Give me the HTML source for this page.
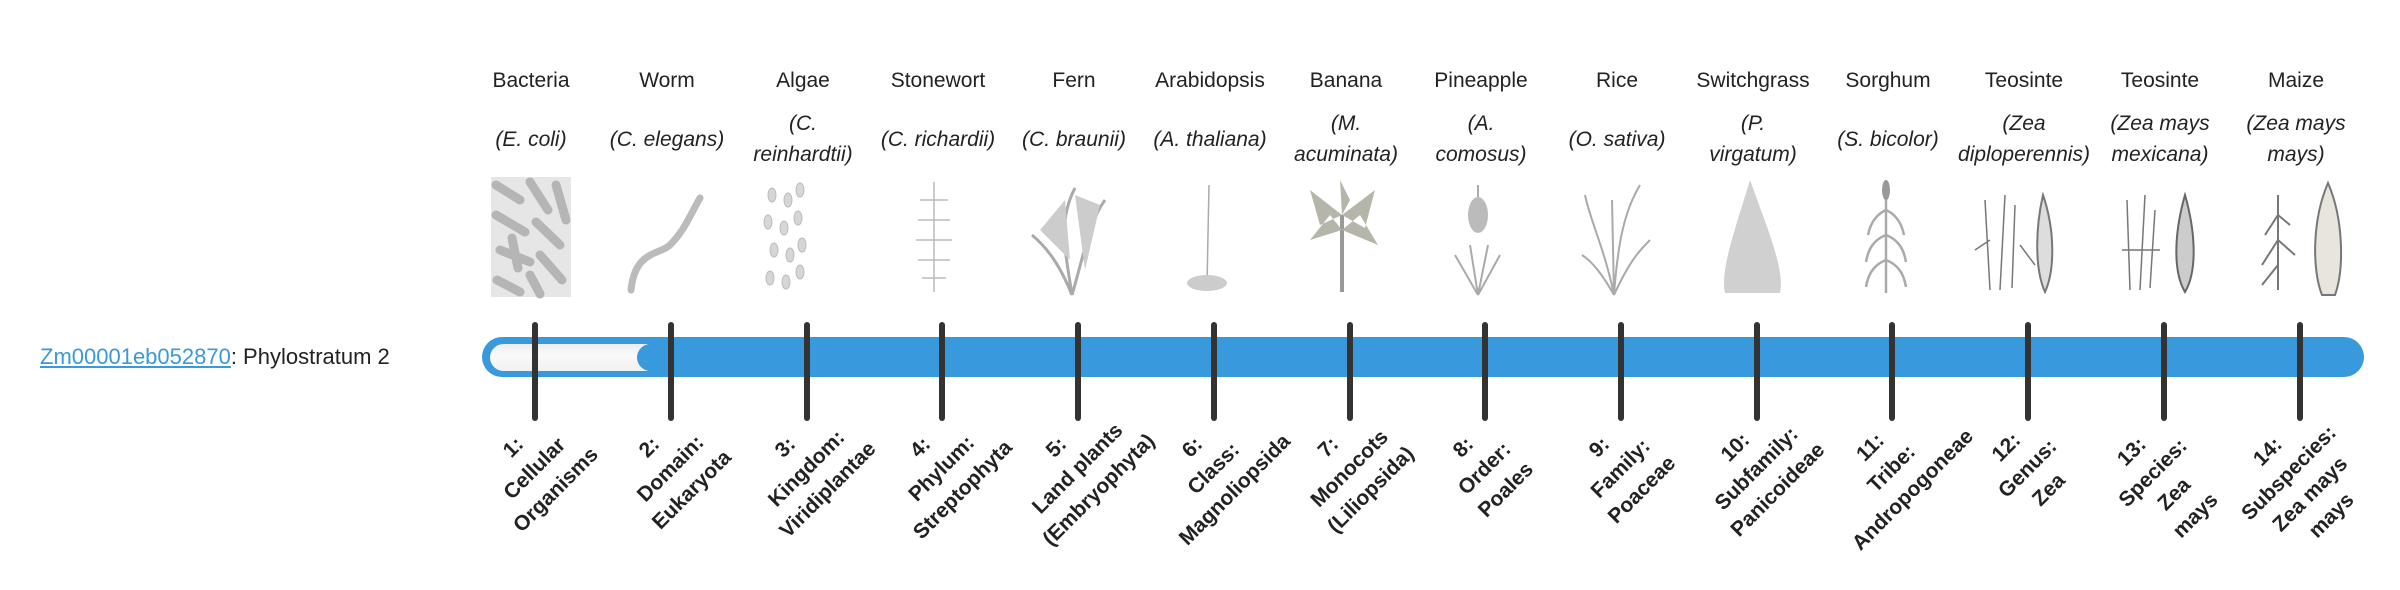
<!DOCTYPE html>
<html><head><meta charset="utf-8">
<style>
body{margin:0;width:2400px;height:580px;background:#fff;position:relative;overflow:hidden;font-family:"Liberation Sans","DejaVu Sans",sans-serif;color:#222}
.abs{position:absolute}
.cn{position:absolute;top:66px;width:160px;text-align:center;font-size:21px;line-height:30px;white-space:nowrap}
.sn{position:absolute;top:100px;height:78px;width:160px;display:flex;align-items:center;justify-content:center;text-align:center;font-size:21px;line-height:31px;font-style:italic;white-space:nowrap}
.im{position:absolute;top:177px;width:120px;height:120px}
.tk{position:absolute;top:322px;width:6px;height:99px;background:#333;border-radius:3px}
.lb{position:absolute;top:424px;width:180px;text-align:center;font-weight:bold;font-size:21px;line-height:30px;transform:rotate(-45deg);transform-origin:center;white-space:nowrap;color:#222}
</style></head><body>
<div class="abs" style="left:40px;top:343px;font-size:22px;line-height:28px;white-space:nowrap"><span style="color:#3899dc;text-decoration:underline">Zm00001eb052870</span>: Phylostratum 2</div>

<!-- bar -->
<div class="abs" style="left:482px;top:337px;width:1882px;height:40px;background:#3899dc;border-radius:20px"></div>
<div class="abs" style="left:490px;top:344px;width:170px;height:27px;background:linear-gradient(#ececec,#fafafa 40%,#f0f0f0);border-radius:14px"></div>
<div class="abs" style="left:637px;top:344px;width:80px;height:27px;background:#3899dc;border-radius:14px"></div>

<svg class="abs" style="left:0;top:0" width="2400" height="320">
<g fill="none" stroke="#aaa" stroke-width="2">
<!-- bacteria -->
<rect x="491" y="177" width="80" height="120" fill="#e6e6e6" stroke="none"/>
<g stroke="#b5b5b5" stroke-width="9" stroke-linecap="round">
<line x1="496" y1="185" x2="520" y2="200"/><line x1="530" y1="182" x2="548" y2="210"/><line x1="556" y1="185" x2="566" y2="220"/>
<line x1="496" y1="215" x2="525" y2="232"/><line x1="536" y1="222" x2="560" y2="245"/><line x1="500" y1="250" x2="530" y2="262"/>
<line x1="540" y1="255" x2="562" y2="280"/><line x1="497" y1="280" x2="520" y2="292"/><line x1="530" y1="275" x2="540" y2="294"/><line x1="512" y1="238" x2="518" y2="268"/>
</g>
<!-- worm -->
<path d="M631 290 C635 250,660 255,670 245 C685 230,690 215,700 198" stroke="#bbb" stroke-width="7" stroke-linecap="round"/>
<!-- algae -->
<g fill="#d6d6d6" stroke="#bbb" stroke-width="1">
<ellipse cx="772" cy="195" rx="4" ry="7"/><ellipse cx="788" cy="200" rx="4" ry="7"/><ellipse cx="800" cy="190" rx="4" ry="7"/>
<ellipse cx="768" cy="222" rx="4" ry="7"/><ellipse cx="784" cy="228" rx="4" ry="7"/><ellipse cx="798" cy="218" rx="4" ry="7"/>
<ellipse cx="774" cy="250" rx="4" ry="7"/><ellipse cx="790" cy="255" rx="4" ry="7"/><ellipse cx="802" cy="245" rx="4" ry="7"/>
<ellipse cx="770" cy="278" rx="4" ry="7"/><ellipse cx="786" cy="282" rx="4" ry="7"/><ellipse cx="800" cy="272" rx="4" ry="7"/>
</g>
<!-- stonewort -->
<g stroke="#bbb" stroke-width="1.5"><line x1="934" y1="182" x2="934" y2="292"/>
<path d="M920 200 L948 200 M918 220 L950 220 M916 240 L952 240 M918 260 L950 260 M922 278 L946 278"/></g>
<!-- fern -->
<g stroke="#aaa" stroke-width="3"><path d="M1072 295 C1065 250,1058 220,1075 188 M1072 295 C1085 250,1090 220,1105 200 M1072 295 C1062 270,1050 250,1032 235"/></g>
<path d="M1040 230 L1070 260 L1065 200 Z M1075 195 L1100 205 L1085 270 Z" fill="#ccc" stroke="none"/>
<!-- arabidopsis -->
<g stroke="#aaa" stroke-width="1.5"><line x1="1209" y1="185" x2="1207" y2="285"/></g>
<ellipse cx="1207" cy="283" rx="20" ry="8" fill="#ccc" stroke="none"/>
<!-- banana -->
<g stroke="#999" stroke-width="4"><line x1="1342" y1="215" x2="1342" y2="292"/></g>
<path d="M1342 215 L1310 190 L1320 225 Z M1342 215 L1375 190 L1365 228 Z M1342 215 L1340 180 L1350 200 Z M1342 230 L1310 240 L1330 215 Z M1342 230 L1378 245 L1360 215 Z" fill="#b5b5aa" stroke="none"/>
<!-- pineapple -->
<ellipse cx="1478" cy="215" rx="10" ry="18" fill="#bbb" stroke="none"/>
<g stroke="#aaa" stroke-width="2"><path d="M1478 295 L1455 255 M1478 295 L1500 255 M1478 295 L1470 245 M1478 295 L1488 245 M1478 197 L1478 185"/></g>
<!-- rice -->
<g stroke="#aaa" stroke-width="2"><path d="M1614 295 C1605 250,1590 220,1585 195 M1614 295 C1618 240,1625 210,1640 185 M1614 295 C1630 260,1640 250,1650 240 M1614 295 C1600 270,1590 260,1582 255 M1614 295 L1612 200"/></g>
<!-- switchgrass -->
<path d="M1750 180 C1735 230,1720 270,1725 293 L1780 293 C1785 270,1768 230,1750 180 Z" fill="#d0d0d0" stroke="none"/>
<!-- sorghum -->
<g stroke="#aaa" stroke-width="2.5"><line x1="1886" y1="190" x2="1886" y2="293"/>
<path d="M1886 210 C1875 215,1870 225,1868 235 M1886 210 C1897 215,1902 225,1904 235 M1886 235 C1873 240,1868 250,1866 262 M1886 235 C1899 240,1904 250,1906 262 M1886 260 C1873 265,1868 275,1866 287 M1886 260 C1899 265,1904 275,1906 287"/></g>
<ellipse cx="1886" cy="190" rx="4" ry="10" fill="#999" stroke="none"/>
<!-- teosinte 12 -->
<g stroke="#777" stroke-width="1.5"><path d="M1990 290 L1985 200 M2000 290 L2005 195 M2012 288 L2015 205 M1975 250 L1990 240 M2020 245 L2035 265"/></g>
<path d="M2043 195 C2035 230,2035 270,2045 292 C2055 270,2055 230,2043 195 Z" fill="#ddd" stroke="#777"/>
<!-- teosinte 13 -->
<g stroke="#777" stroke-width="1.5"><path d="M2130 290 L2127 200 M2140 290 L2145 195 M2150 288 L2155 210 M2122 250 L2160 250"/></g>
<path d="M2185 195 C2175 230,2172 270,2185 292 C2198 270,2195 230,2185 195 Z" fill="#ccc" stroke="#666"/>
<!-- maize -->
<g stroke="#777" stroke-width="2"><path d="M2278 290 L2278 195 M2278 215 L2265 235 M2278 215 L2290 225 M2278 240 L2262 265 M2278 240 L2295 255 M2278 265 L2262 285"/></g>
<path d="M2328 183 C2312 220,2312 270,2322 295 L2335 295 C2344 270,2344 220,2328 183 Z" fill="#e8e5dc" stroke="#777"/>
</g>
</svg>

<!-- ticks -->
<div class="tk" style="left:532px"></div><div class="tk" style="left:668px"></div><div class="tk" style="left:804px"></div><div class="tk" style="left:939px"></div><div class="tk" style="left:1075px"></div><div class="tk" style="left:1211px"></div><div class="tk" style="left:1347px"></div><div class="tk" style="left:1482px"></div><div class="tk" style="left:1618px"></div><div class="tk" style="left:1754px"></div><div class="tk" style="left:1889px"></div><div class="tk" style="left:2025px"></div><div class="tk" style="left:2161px"></div><div class="tk" style="left:2297px"></div>

<!-- common names -->
<div class="cn" style="left:451px">Bacteria</div>
<div class="cn" style="left:587px">Worm</div>
<div class="cn" style="left:723px">Algae</div>
<div class="cn" style="left:858px">Stonewort</div>
<div class="cn" style="left:994px">Fern</div>
<div class="cn" style="left:1130px">Arabidopsis</div>
<div class="cn" style="left:1266px">Banana</div>
<div class="cn" style="left:1401px">Pineapple</div>
<div class="cn" style="left:1537px">Rice</div>
<div class="cn" style="left:1673px">Switchgrass</div>
<div class="cn" style="left:1808px">Sorghum</div>
<div class="cn" style="left:1944px">Teosinte</div>
<div class="cn" style="left:2080px">Teosinte</div>
<div class="cn" style="left:2216px">Maize</div>

<!-- scientific -->
<div class="sn" style="left:451px"><span>(<i>E. coli</i>)</span></div>
<div class="sn" style="left:587px"><span>(<i>C. elegans</i>)</span></div>
<div class="sn" style="left:723px"><span>(<i>C.</i><br><i>reinhardtii</i>)</span></div>
<div class="sn" style="left:858px"><span>(<i>C. richardii</i>)</span></div>
<div class="sn" style="left:994px"><span>(<i>C. braunii</i>)</span></div>
<div class="sn" style="left:1130px"><span>(<i>A. thaliana</i>)</span></div>
<div class="sn" style="left:1266px"><span>(<i>M.</i><br><i>acuminata</i>)</span></div>
<div class="sn" style="left:1401px"><span>(<i>A.</i><br><i>comosus</i>)</span></div>
<div class="sn" style="left:1537px"><span>(<i>O. sativa</i>)</span></div>
<div class="sn" style="left:1673px"><span>(<i>P.</i><br><i>virgatum</i>)</span></div>
<div class="sn" style="left:1808px"><span>(<i>S. bicolor</i>)</span></div>
<div class="sn" style="left:1944px"><span>(<i>Zea</i><br><i>diploperennis</i>)</span></div>
<div class="sn" style="left:2080px"><span>(<i>Zea mays</i><br><i>mexicana</i>)</span></div>
<div class="sn" style="left:2216px"><span>(<i>Zea mays</i><br><i>mays</i>)</span></div>

<!-- labels -->
<div class="lb" style="left:445px">1:<br>Cellular<br>Organisms</div>
<div class="lb" style="left:581px">2:<br>Domain:<br>Eukaryota</div>
<div class="lb" style="left:717px">3:<br>Kingdom:<br>Viridiplantae</div>
<div class="lb" style="left:852px">4:<br>Phylum:<br>Streptophyta</div>
<div class="lb" style="left:988px">5:<br>Land plants<br>(Embryophyta)</div>
<div class="lb" style="left:1124px">6:<br>Class:<br>Magnoliopsida</div>
<div class="lb" style="left:1260px">7:<br>Monocots<br>(Liliopsida)</div>
<div class="lb" style="left:1395px">8:<br>Order:<br>Poales</div>
<div class="lb" style="left:1531px">9:<br>Family:<br>Poaceae</div>
<div class="lb" style="left:1667px">10:<br>Subfamily:<br>Panicoideae</div>
<div class="lb" style="left:1802px">11:<br>Tribe:<br>Andropogoneae</div>
<div class="lb" style="left:1938px">12:<br>Genus:<br>Zea</div>
<div class="lb" style="left:2074px">13:<br>Species:<br>Zea<br>mays</div>
<div class="lb" style="left:2210px">14:<br>Subspecies:<br>Zea mays<br>mays</div>
</body></html>
